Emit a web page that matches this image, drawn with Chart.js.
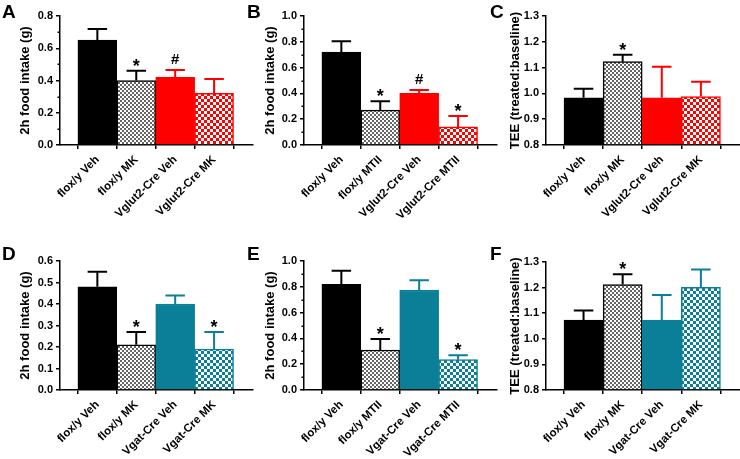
<!DOCTYPE html>
<html>
<head>
<meta charset="utf-8">
<script src="https://cdn.jsdelivr.net/npm/chart.js@4"></script>
<style>
  body { margin: 0; background: #fff; }
  #wrap { position: relative; width: 740px; height: 459px; overflow: hidden; }
  #wrap canvas { position: absolute; left: 0; top: 0; }
  .letter { position: absolute; font: bold 19px 'Liberation Sans', Arial, sans-serif; line-height: 1; color: #000; }
</style>
</head>
<body>
<div id="wrap"></div>
<script>
// Group names
const catsVglutMK   = ['flox/y Veh', 'flox/y MK', 'Vglut2-Cre Veh', 'Vglut2-Cre MK'];
const catsVglutMTII = ['flox/y Veh', 'flox/y MTII', 'Vglut2-Cre Veh', 'Vglut2-Cre MTII'];
const catsVgatMK    = ['flox/y Veh', 'flox/y MK', 'Vgat-Cre Veh', 'Vgat-Cre MK'];
const catsVgatMTII  = ['flox/y Veh', 'flox/y MTII', 'Vgat-Cre Veh', 'Vgat-Cre MTII'];

// Means and SEM
const meansA = [0.65, 0.40, 0.42, 0.32];
const semA   = [0.07, 0.06, 0.045, 0.09];
const meansB = [0.72, 0.27, 0.40, 0.14];
const semB   = [0.085, 0.07, 0.027, 0.085];
const meansC = [0.983, 1.123, 0.983, 0.988];
const semC   = [0.035, 0.027, 0.12, 0.057];
const meansD = [0.48, 0.21, 0.40, 0.19];
const semD   = [0.07, 0.06, 0.04, 0.08];
const meansE = [0.82, 0.31, 0.775, 0.235];
const semE   = [0.105, 0.085, 0.075, 0.035];
const meansF = [1.073, 1.212, 1.073, 1.201];
const semF   = [0.038, 0.04, 0.098, 0.07];

// Significance marks above the error bars
const marksA = ['', '*', '#', ''];
const marksB = ['', '*', '#', '*'];
const marksC = ['', '*', '', ''];
const marksD = ['', '*', '', '*'];
const marksE = ['', '*', '', '*'];
const marksF = ['', '*', '', ''];

// Axis ranges: [min, max, step, minor step]
const yRangeA = [0, 0.8, 0.2, 0.1];
const yRangeB = [0, 1.0, 0.2, 0.1];
const yRangeC = [0.8, 1.3, 0.1, 0];
const yRangeD = [0, 0.6, 0.1, 0];
const yRangeE = [0, 1.0, 0.2, 0.1];
const yRangeF = [0.8, 1.3, 0.1, 0];

const FONT = "'Liberation Sans', Arial, sans-serif";
Chart.defaults.font.family = FONT;
Chart.defaults.color = '#000';

const RED = '#ff0000';
const TEAL = '#0a7f97';

function checker(color, size) {
    const c = document.createElement('canvas');
    c.width = c.height = size * 2;
    const g = c.getContext('2d');
    g.fillStyle = '#fff';
    g.fillRect(0, 0, size * 2, size * 2);
    g.fillStyle = color;
    g.fillRect(0, 0, size, size);
    g.fillRect(size, size, size, size);
    return g.createPattern(c, 'repeat');
}

const grayCheck = checker('#666', 2);
const redCheck = checker(RED, 3);
const tealCheck = checker(TEAL, 3);

const vglutFill = ['#000', grayCheck, RED, redCheck];
const vglutLine = ['#000', '#000', RED, RED];
const vgatFill = ['#000', grayCheck, TEAL, tealCheck];
const vgatLine = ['#000', '#000', TEAL, TEAL];

// where each panel sits in the page
const panels = [
    { letter: 'A', lx: 2, ly: 2, axisX: 60, right: 253, top: 16, bottom: 145, titleX: 25,
      cats: catsVglutMK, means: meansA, sem: semA, marks: marksA, range: yRangeA,
      title: '2h food intake (g)', fill: vglutFill, line: vglutLine },
    { letter: 'B', lx: 247, ly: 2, axisX: 304, right: 497, top: 16, bottom: 145, titleX: 270,
      cats: catsVglutMTII, means: meansB, sem: semB, marks: marksB, range: yRangeB,
      title: '2h food intake (g)', fill: vglutFill, line: vglutLine },
    { letter: 'C', lx: 490, ly: 2, axisX: 546, right: 740, top: 16, bottom: 145, titleX: 515,
      cats: catsVglutMK, means: meansC, sem: semC, marks: marksC, range: yRangeC,
      title: 'TEE (treated:baseline)', fill: vglutFill, line: vglutLine },
    { letter: 'D', lx: 2, ly: 244, axisX: 60, right: 253, top: 261, bottom: 390, titleX: 25,
      cats: catsVgatMK, means: meansD, sem: semD, marks: marksD, range: yRangeD,
      title: '2h food intake (g)', fill: vgatFill, line: vgatLine },
    { letter: 'E', lx: 247, ly: 244, axisX: 304, right: 497, top: 261, bottom: 390, titleX: 270,
      cats: catsVgatMTII, means: meansE, sem: semE, marks: marksE, range: yRangeE,
      title: '2h food intake (g)', fill: vgatFill, line: vgatLine },
    { letter: 'F', lx: 490, ly: 244, axisX: 546, right: 740, top: 262, bottom: 390, titleX: 515,
      cats: catsVgatMK, means: meansF, sem: semF, marks: marksF, range: yRangeF,
      title: 'TEE (treated:baseline)', fill: vgatFill, line: vgatLine }
];

// canvases are taller than the page so the rotated labels have room
const W = 740, H = 620;
const TITLE_SIZE = 13;
const X_AXIS_H = 100;

function makePlugin(p) {
    return {
        id: 'errorBars' + p.letter,
        afterDatasetsDraw(chart) {
            const ctx = chart.ctx;
            const ys = chart.scales.y;
            const meta = chart.getDatasetMeta(0);
            meta.data.forEach((bar, i) => {
                const top = ys.getPixelForValue(p.means[i] + p.sem[i]);
                const half = bar.width / 4;
                ctx.save();
                ctx.strokeStyle = p.line[i];
                ctx.lineWidth = 2;
                ctx.beginPath();
                ctx.moveTo(bar.x, bar.y);
                ctx.lineTo(bar.x, top);
                ctx.moveTo(bar.x - half, top);
                ctx.lineTo(bar.x + half, top);
                ctx.stroke();
                const m = p.marks[i];
                if (m) {
                    ctx.fillStyle = '#000';
                    ctx.textAlign = 'center';
                    ctx.textBaseline = 'alphabetic';
                    if (m === '*') {
                        ctx.font = 'bold 18px ' + FONT;
                        ctx.fillText(m, bar.x, top + 1);
                    } else {
                        ctx.font = 'bold 15px ' + FONT;
                        ctx.fillText(m, bar.x, top - 6);
                    }
                }
                ctx.restore();
            });
        },
        afterDraw(chart) {
            // minor ticks on the y axis
            const minor = p.range[3];
            if (!minor) return;
            const ctx = chart.ctx;
            const ys = chart.scales.y;
            const x = chart.chartArea.left;
            ctx.save();
            ctx.strokeStyle = '#000';
            ctx.lineWidth = 1.5;
            ctx.beginPath();
            for (let v = p.range[0] + minor; v < p.range[1]; v += p.range[2]) {
                const y = Math.round(ys.getPixelForValue(v)) + 0.25;
                ctx.moveTo(x, y);
                ctx.lineTo(x - 2.5, y);
            }
            ctx.stroke();
            ctx.restore();
        }
    };
}

const wrap = document.getElementById('wrap');

panels.forEach(p => {
    const canvas = document.createElement('canvas');
    canvas.width = W;
    canvas.height = H;
    wrap.appendChild(canvas);

    const letter = document.createElement('div');
    letter.className = 'letter';
    letter.style.left = p.lx + 'px';
    letter.style.top = p.ly + 'px';
    letter.textContent = p.letter;
    wrap.appendChild(letter);

    const padLeft = p.titleX - TITLE_SIZE * 1.2 / 2;
    const yWidth = p.axisX - padLeft;

    new Chart(canvas.getContext('2d'), {
        type: 'bar',
        data: {
            datasets: [{
                data: p.means.map((m, i) => ({ x: i, y: m })),
                backgroundColor: p.fill,
                borderColor: p.line,
                borderWidth: 1.5,
                barPercentage: 1,
                categoryPercentage: 1,
                base: p.range[0]
            }]
        },
        options: {
            responsive: false,
            animation: false,
            events: [],
            layout: {
                padding: {
                    left: padLeft,
                    right: W - p.right,
                    top: p.top,
                    bottom: H - p.bottom - X_AXIS_H
                }
            },
            plugins: {
                legend: { display: false },
                tooltip: { enabled: false }
            },
            scales: {
                x: {
                    type: 'linear',
                    min: -0.96,
                    max: 4.0,
                    offset: false,
                    afterBuildTicks: s => { s.ticks = p.cats.map((c, i) => ({ value: i })); },
                    afterFit: s => { s.height = X_AXIS_H; },
                    grid: { display: true, drawOnChartArea: false, tickLength: 4, color: '#000', lineWidth: 1.5 },
                    border: { display: true, color: '#000', width: 1.5 },
                    ticks: {
                        autoSkip: false,
                        minRotation: 45,
                        maxRotation: 45,
                        padding: 4,
                        color: '#000',
                        font: { size: 11.5, weight: 'bold' },
                        callback: v => p.cats[v]
                    }
                },
                y: {
                    min: p.range[0],
                    max: p.range[1],
                    afterFit: s => { s.width = yWidth; },
                    grid: { display: true, drawOnChartArea: false, tickLength: 4, color: '#000', lineWidth: 1.5 },
                    border: { display: true, color: '#000', width: 1.5 },
                    ticks: {
                        stepSize: p.range[2],
                        padding: 3,
                        color: '#000',
                        font: { size: 11, weight: 'bold' },
                        callback: v => v.toFixed(1)
                    },
                    title: {
                        display: true,
                        text: p.title,
                        color: '#000',
                        padding: 0,
                        font: { size: TITLE_SIZE, weight: 'bold' }
                    }
                }
            }
        },
        plugins: [makePlugin(p)]
    });
});
</script>
</body>
</html>
